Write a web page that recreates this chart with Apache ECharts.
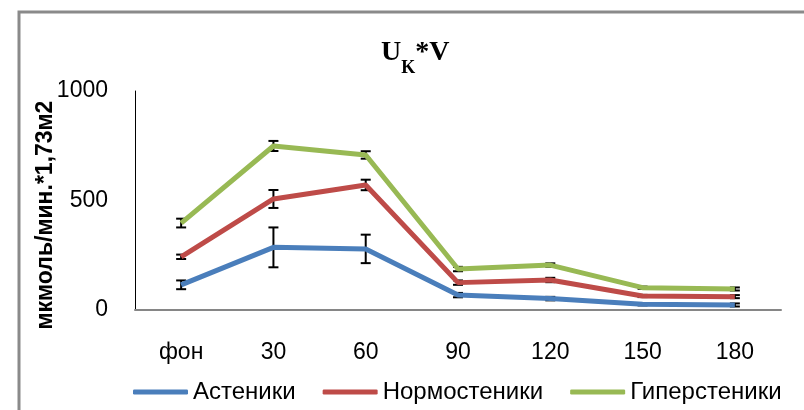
<!DOCTYPE html>
<html><head><meta charset="utf-8">
<script src="https://cdn.jsdelivr.net/npm/echarts@6/dist/echarts.min.js"></script>
<style>html,body{margin:0;padding:0;background:#fff}#c{width:804px;height:410px}</style>
</head><body><div id="c"></div>
<script>
const categories = ['фон','30','60','90','120','150','180'];
const seriesNames = ['Астеники','Нормостеники','Гиперстеники'];
const asteniki = [115, 286, 279, 68, 52, 26, 23];
const normosteniki = [243, 507, 571, 125, 137, 64, 61];
const hipersteniki = [397, 749, 708, 187, 205, 102, 96];
const errAsteniki = [20, 91, 65, 10, 8, 5, 7];
const errNormosteniki = [10, 41, 24, 10, 10, 5, 7];
const errHipersteniki = [20, 23, 17, 10, 8, 5, 7];
const yTicks = [0, 500, 1000];

const colors = ['#4A7EBB', '#BE4B48', '#98B954'];
const values = [asteniki, normosteniki, hipersteniki];
const errors = [errAsteniki, errNormosteniki, errHipersteniki];

const chart = echarts.init(document.getElementById('c'));
const font = '"Liberation Sans", Arial, sans-serif';

const lineSeries = values.map((v, i) => ({
  name: seriesNames[i], type: 'line', data: v, symbol: 'none',
  lineStyle: { color: colors[i], width: 5 }, itemStyle: { color: colors[i] }, z: 3
}));
const errSeries = values.map((v, i) => ({
  type: 'custom', z: 2, silent: true,
  data: v.map((val, k) => [k, val, errors[i][k]]),
  renderItem: function (params, api) {
    const x = api.value(0), y = api.value(1), e = api.value(2);
    const hi = api.coord([x, y + e]), lo = api.coord([x, y - e]);
    const w = 5;
    const st = { stroke: '#000', lineWidth: 2 };
    return { type: 'group', children: [
      { type: 'line', shape: { x1: hi[0], y1: hi[1], x2: lo[0], y2: lo[1] }, style: st },
      { type: 'line', shape: { x1: hi[0]-w, y1: hi[1], x2: hi[0]+w, y2: hi[1] }, style: st },
      { type: 'line', shape: { x1: lo[0]-w, y1: lo[1], x2: lo[0]+w, y2: lo[1] }, style: st }
    ]};
  }
}));

chart.setOption({
  animation: false,
  backgroundColor: '#fff',
  title: {
    left: 376, top: 32,
    text: '{a|U}{b|K}{a|*V}',
    textStyle: {
      rich: {
        a: { fontFamily: '"Liberation Serif", "Times New Roman", serif', fontWeight: 'bold', fontSize: 28, color: '#000', lineHeight: 32 },
        b: { fontFamily: '"Liberation Serif", "Times New Roman", serif', fontWeight: 'bold', fontSize: 18, color: '#000', lineHeight: 18, verticalAlign: 'bottom', padding: [0,0,-8,0] }
      }
    }
  },
  graphic: [
    { type: 'rect', shape: { x: 19, y: 12, width: 900, height: 500 }, style: { fill: 'none', stroke: '#8a8a8a', lineWidth: 3 }, silent: true },
    { type: 'text', x: 46, y: 215, rotation: Math.PI / 2,
      style: { text: 'мкмоль/мин.*1,73м2', font: 'bold 23px "Liberation Sans", Arial, sans-serif', fill: '#000', textAlign: 'center', textVerticalAlign: 'middle' } }
  ],
  legend: {
    left: 128, top: 375,
    itemWidth: 55, itemHeight: 5, itemGap: 27, icon: 'roundRect',
    textStyle: { fontFamily: font, fontSize: 24, color: '#000' },
    data: seriesNames
  },
  grid: { left: 135, right: 23, top: 91, bottom: 100, containLabel: false },
  xAxis: {
    type: 'category', data: categories, boundaryGap: true,
    axisLine: { lineStyle: { color: '#868686', width: 2 } },
    axisTick: { show: false },
    axisLabel: { color: '#000', fontFamily: font, fontSize: 23, margin: 31 }
  },
  yAxis: {
    type: 'value', min: yTicks[0], max: yTicks[yTicks.length - 1], interval: yTicks[1] - yTicks[0],
    axisLine: { show: true, lineStyle: { color: '#000', width: 1 } },
    axisTick: { show: false },
    splitLine: { show: false },
    axisLabel: { color: '#000', fontFamily: font, fontSize: 23, margin: 27, formatter: v => String(v) }
  },
  series: [...errSeries, ...lineSeries]
});
</script></body></html>
